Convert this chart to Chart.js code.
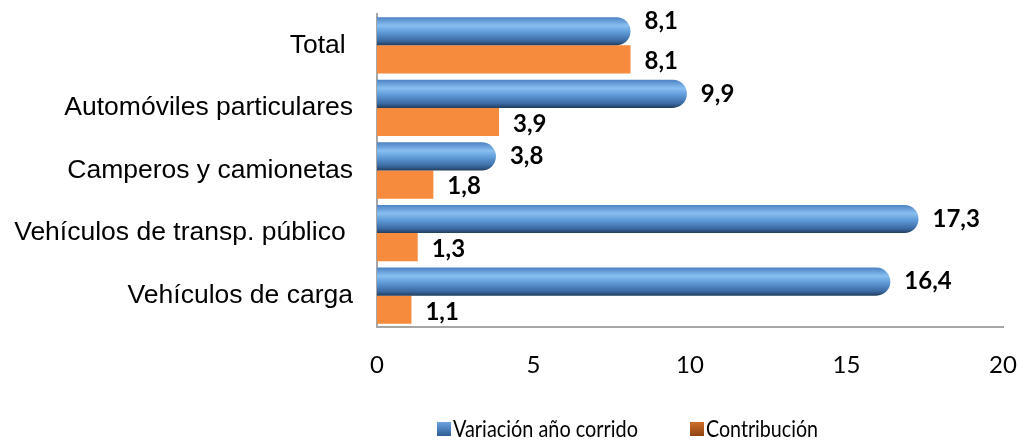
<!DOCTYPE html>
<html>
<head>
<meta charset="utf-8">
<script src="https://cdn.jsdelivr.net/npm/chart.js@4"></script>
<style>
  html, body { margin: 0; padding: 0; background: #ffffff; }
  #wrap { width: 1019px; height: 442px; }
</style>
</head>
<body>
<div id="wrap"><canvas id="grafico"></canvas></div>
<script>
// Datos del gráfico
const categorias = ['Total ', 'Automóviles particulares', 'Camperos y camionetas', 'Vehículos de transp. público ', 'Vehículos de carga'];
const variacion = [8.1, 9.9, 3.8, 17.3, 16.4];
const contribucion = [8.1, 3.9, 1.8, 1.3, 1.1];
const ticksX = [0, 5, 10, 15, 20];
const nombresSeries = ['Variación año corrido', 'Contribución'];

const catPct = 0.9;

// Degradado azul para las barras tipo tubo
function azul(context) {
    const chart = context.chart;
    const y = chart.scales.y;
    if (!y || y.bottom === undefined) return '#5b9bd5';
    const band = (y.bottom - y.top) / categorias.length;
    const h = band * catPct / 2;
    const c = y.getPixelForValue(context.dataIndex);
    const g = chart.ctx.createLinearGradient(0, c - h, 0, c);
    g.addColorStop(0, '#4c82c2');
    g.addColorStop(0.3, '#88bff1');
    g.addColorStop(0.55, '#5e99d7');
    g.addColorStop(0.85, '#3a68a0');
    g.addColorStop(1, '#213d5c');
    return g;
}

// Etiquetas de valores al final de cada barra
const etiquetas = {
    id: 'etiquetas',
    afterDatasetsDraw(chart) {
        const ctx = chart.ctx;
        const m0 = chart.getDatasetMeta(0), m1 = chart.getDatasetMeta(1);
        ctx.save();
        ctx.font = 'bold 24px Lato';
        ctx.fillStyle = '#000000';
        ctx.textBaseline = 'middle';
        m0.data.forEach((bar, j) => {
            const otra = m1.data[j];
            let y = bar.y;
            // si las dos etiquetas quedan juntas, subir la de arriba
            if (Math.abs(bar.x - otra.x) < 20) y -= 10;
            ctx.fillText(variacion[j].toFixed(1).replace('.', ','), bar.x + 14, y);
        });
        m1.data.forEach((bar, j) => {
            ctx.fillText(contribucion[j].toFixed(1).replace('.', ','), bar.x + 14, bar.y + 2);
        });
        ctx.restore();
    }
};

// Leyenda propia (centrada como en la imagen original)
const leyenda = {
    id: 'leyenda',
    afterDraw(chart) {
        const ctx = chart.ctx;
        ctx.save();
        ctx.font = '24px Lato';
        ctx.textBaseline = 'middle';
        const yc = 429;
        const cajas = [
            { x: 437, ancho: 185, c1: '#6aa3e0', c2: '#2e5e94' },
            { x: 690, ancho: 112, c1: '#cf6f2c', c2: '#8f4312' }
        ];
        cajas.forEach((b, i) => {
            const g = ctx.createLinearGradient(b.x, yc - 7, b.x, yc + 7);
            g.addColorStop(0, b.c1);
            g.addColorStop(1, b.c2);
            ctx.fillStyle = g;
            ctx.fillRect(b.x, yc - 7, 14, 14);
            ctx.fillStyle = '#000000';
            const w = ctx.measureText(nombresSeries[i]).width;
            ctx.save();
            ctx.translate(b.x + 16, yc);
            ctx.scale(b.ancho / w, 1);
            ctx.fillText(nombresSeries[i], 0, 0);
            ctx.restore();
        });
        ctx.restore();
    }
};

const ctx = document.getElementById('grafico').getContext('2d');
const grafico = new Chart(ctx, {
    type: 'bar',
    data: {
        labels: categorias,
        datasets: [
            {
                label: nombresSeries[0],
                data: variacion,
                backgroundColor: azul,
                borderRadius: { topRight: 14, bottomRight: 14, topLeft: 0, bottomLeft: 0 },
                borderSkipped: false,
                categoryPercentage: catPct,
                barPercentage: 1
            },
            {
                label: nombresSeries[1],
                data: contribucion,
                backgroundColor: '#f68a3d',
                categoryPercentage: catPct,
                barPercentage: 1
            }
        ]
    },
    options: {
        indexAxis: 'y',
        responsive: true,
        maintainAspectRatio: false,
        animation: false,
        layout: { padding: { top: 14, right: 16, left: 0, bottom: 0 } },
        scales: {
            x: {
                min: 0,
                max: 20,
                afterBuildTicks(axis) { axis.ticks = ticksX.map(v => ({ value: v })); },
                afterFit(axis) {
                    axis.height = 115;
                    axis.paddingLeft = 0;
                    axis.paddingRight = 0;
                },
                grid: { display: false, drawTicks: false },
                border: { display: true, color: '#a6a6a6', width: 2 },
                ticks: { padding: 24, color: '#000000', font: { family: 'Lato', size: 24 } }
            },
            y: {
                afterFit(axis) {
                    axis.width = 377;
                    axis.paddingTop = 0;
                    axis.paddingBottom = 0;
                },
                grid: { display: false, drawTicks: false },
                border: { display: true, color: '#a6a6a6', width: 2 },
                ticks: { padding: 24, color: '#000000', font: { family: 'Liberation Sans', size: 26.5 } }
            }
        },
        plugins: {
            legend: { display: false },
            tooltip: { enabled: false }
        }
    },
    plugins: [etiquetas, leyenda]
});
</script>
</body>
</html>
